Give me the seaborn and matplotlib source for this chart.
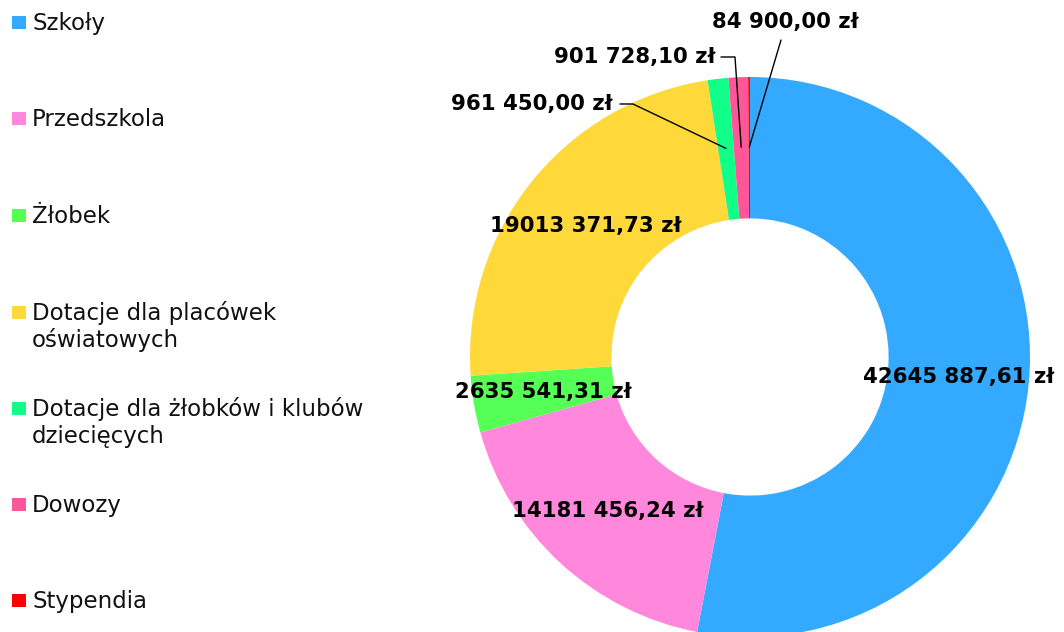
import numpy as np
import matplotlib
matplotlib.use("Agg")
import matplotlib.pyplot as plt
import seaborn as sns
from matplotlib.patches import Rectangle

categories = ["Szkoły", "Przedszkola", "Żłobek", "Dotacje dla placówek\noświatowych",
              "Dotacje dla żłobków i klubów\ndziecięcych", "Dowozy", "Stypendia"]
values = [42645887.61, 14181456.24, 2635541.31, 19013371.73, 961450.00, 901728.10, 84900.00]
value_labels = ["42645 887,61 zł", "14181 456,24 zł", "2635 541,31 zł", "19013 371,73 zł",
                "961 450,00 zł", "901 728,10 zł", "84 900,00 zł"]
colors = ["#33AAFF", "#FF88DD", "#55FF55", "#FFD83A", "#11FF88", "#FF5599", "#FF0000"]

sns.set_theme(style="white")
plt.rcParams['font.family'] = ['DejaVu Sans']
palette = sns.color_palette(colors)

W, H = 1064, 632
fig = plt.figure(figsize=(W / 100, H / 100), dpi=100)
cx, cy, R = 750, 357, 280
ax = fig.add_axes([(cx - R) / W, (H - cy - R) / H, 2 * R / W, 2 * R / H])
wedges, _ = ax.pie(values, colors=palette, startangle=90, counterclock=False,
                   radius=1.0, wedgeprops=dict(width=0.505, linewidth=0))
ax.set_xlim(-1, 1)
ax.set_ylim(-1, 1)
ax.set_aspect("equal")
ax.axis("off")

def px(x, y):
    return ((x - cx) / R, (cy - y) / R)

rmid = 0.75
fs = 15.3
mids = []
for w in wedges:
    th = np.deg2rad((w.theta1 + w.theta2) / 2)
    mids.append((rmid * np.cos(th), rmid * np.sin(th)))

# inside labels
for i in range(4):
    x, y = mids[i]
    ax.text(x, y, value_labels[i], ha="center", va="center", fontsize=fs,
            fontweight="bold", color="black", clip_on=False)

# outside labels with leader lines
tx, ty = px(613, 104)
ax.text(tx, ty, value_labels[4], ha="right", va="center", fontsize=fs, fontweight="bold",
        color="black", clip_on=False)
a = px(620, 104); b = px(633, 104)
ax.plot([a[0], b[0], mids[4][0]], [a[1], b[1], mids[4][1]], color="black", lw=1, clip_on=False)

tx, ty = px(715, 57)
ax.text(tx, ty, value_labels[5], ha="right", va="center", fontsize=fs, fontweight="bold",
        color="black", clip_on=False)
a = px(721, 57); b = px(735, 57)
ax.plot([a[0], b[0], mids[5][0]], [a[1], b[1], mids[5][1]], color="black", lw=1, clip_on=False)

tx, ty = px(785, 22)
ax.text(tx, ty, value_labels[6], ha="center", va="center", fontsize=fs, fontweight="bold",
        color="black", clip_on=False)
a = px(781, 40)
ax.plot([a[0], mids[6][0]], [a[1], mids[6][1]], color="black", lw=1, clip_on=False)

# legend
leg_y = [22, 118, 215, 312, 408, 504, 600]
for cat, col, y in zip(categories, palette, leg_y):
    fig.patches.append(Rectangle((12 / W, (H - y - 7) / H), 14 / W, 13 / H,
                                 transform=fig.transFigure, facecolor=col, edgecolor="none"))
    for k, line in enumerate(cat.split("\n")):
        base = y + 8 + 27 * k
        fig.text(32 / W, (H - base) / H, line, ha="left", va="baseline", fontsize=16.5,
                 color="#111111")

fig.savefig("out.png", dpi=100, facecolor="white")
